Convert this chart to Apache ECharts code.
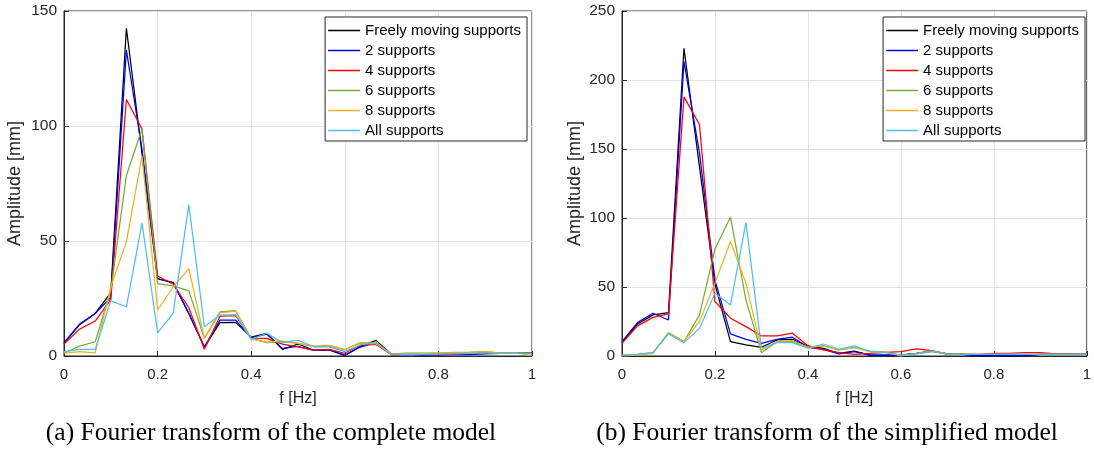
<!DOCTYPE html>
<html>
<head>
<meta charset="utf-8">
<script src="https://cdn.jsdelivr.net/npm/echarts@6/dist/echarts.min.js"></script>
<style>
html,body{margin:0;padding:0;background:#fff;}
#chart{width:1094px;height:452px;}
</style>
</head>
<body>
<div id="chart"></div>
<script>
// Frequencies [Hz]
var freqs = [0, 0.0333, 0.0667, 0.1, 0.1333, 0.1667, 0.2, 0.2333, 0.2667, 0.3, 0.3333, 0.3667, 0.4, 0.4333, 0.4667, 0.5,
  0.5333, 0.5667, 0.6, 0.6333, 0.6667, 0.7, 0.7333, 0.7667, 0.8, 0.8333, 0.8667, 0.9, 0.9333, 0.9667, 1];

var seriesNames = ['Freely moving supports', '2 supports', '4 supports', '6 supports', '8 supports', 'All supports'];
var seriesColors = ['#000000', '#0000ff', '#ff0000', '#77ac30', '#edb120', '#4dbeee'];

// (a) complete model
var completeFree = [5.5, 13.6, 18.5, 27.5, 142.5, 88, 33.5, 32, 18.5, 3.8, 14.5, 14.6, 8.2, 9.8, 2.9, 5.2, 2.6, 2.6, 0.2, 4.2, 6.8, 0.7, 0.8, 0.7, 0.7, 0.8, 1.2, 1.2, 1.2, 1.2, 1.2];
var complete2 = [5.8, 13.9, 18.5, 25.5, 133, 90, 33.7, 31.8, 18.5, 4, 15.6, 15.6, 8, 9.5, 3.3, 4.2, 2.4, 2.8, 0.4, 3.9, 5.8, 0.6, 0.7, 0.4, 0.5, 0.6, 0.6, 0.9, 1.1, 1.2, 1.1];
var complete4 = [5.2, 11.7, 15.2, 24.6, 111.5, 98.7, 34.8, 31.2, 21, 2.9, 17.3, 17.5, 7.8, 7.7, 5.2, 4, 2.6, 2.9, 1.2, 4.8, 5, 0.5, 0.8, 0.8, 0.8, 0.9, 1.2, 1.4, 1.2, 1.2, 1.0];
var complete6 = [1.2, 4.3, 6.2, 28.5, 78.5, 98.7, 31.5, 30.5, 28.3, 7.7, 19.2, 19.7, 7.7, 5.8, 6.2, 5.5, 4.2, 4.3, 2.7, 5.8, 5.5, 0.9, 1.2, 1.2, 1.3, 1.6, 1.7, 1.9, 1.3, 1.4, 1.1];
var complete8 = [1.2, 1.9, 1.4, 30, 49.6, 87, 20, 30, 38, 7.7, 18.8, 19.5, 7.3, 6, 6.6, 5.5, 4.3, 4.6, 2.9, 5.5, 5.4, 0.8, 1.0, 1.0, 1.4, 1.4, 1.4, 1.9, 1.2, 1.3, 0.2];
var completeAll = [1.9, 2.9, 2.9, 24, 21.4, 57.8, 10.1, 18.5, 65.8, 12.7, 17.8, 18, 7.2, 9.9, 5.8, 6.9, 4, 4, 1.9, 4.8, 6, 0.7, 0.8, 0.7, 0.8, 0.9, 1.1, 1.2, 1.2, 1.2, 1.0];

// (b) simplified model
var simpleFree = [9.7, 23.2, 29.8, 31.5, 223, 137, 52, 10.4, 8, 6.3, 11.6, 12.1, 7, 5.6, 1.9, 3.6, 0.7, 0.7, 0.7, 1.9, 3.6, 1.5, 1.2, 0.3, 0.3, 0.1, 0.5, 1.2, 1.2, 1.2, 1.2];
var simple2 = [10.4, 24.2, 31, 26.1, 213.5, 147, 55, 16, 12.1, 9.2, 12.1, 13.6, 6.3, 4.8, 1.5, 3.1, 0.7, 0.7, 0.7, 1.9, 3.6, 1.5, 1.2, 0.2, 0.1, 0.2, 0.5, 1.2, 1.2, 1.2, 1.2];
var simple4 = [9.2, 21.8, 28, 30.5, 187.8, 167.8, 39.5, 27.4, 21.3, 14.5, 14.5, 16.5, 7.5, 4.4, 2.4, 1.2, 1.9, 2.7, 3.1, 5.1, 3.9, 1.2, 1.4, 1.2, 1.9, 1.9, 2.4, 2.4, 1.5, 1.5, 1.2];
var simple6 = [0.7, 1.2, 2.4, 17, 10.4, 29.8, 77.5, 100.7, 40.7, 2.4, 10.4, 10.4, 6.3, 7.3, 4.4, 6.3, 3.6, 2.9, 0.5, 1.5, 3.1, 1.5, 1.2, 1.2, 1.2, 1.2, 1.2, 1.2, 1.2, 1.2, 1.2];
var simple8 = [0, 0.7, 1.9, 16.5, 10.4, 25, 52.8, 83, 52.8, 4.4, 10.4, 11.1, 6.3, 7.3, 4.4, 6, 3.1, 2.7, 0, 1.9, 3.6, 1.5, 1.2, 1.2, 1.2, 1.2, 1.2, 1.2, 1.2, 1.2, 1.2];
var simpleAll = [0.7, 1.2, 2.4, 16, 9.7, 20, 45.5, 37, 96.8, 5.6, 9.7, 9.7, 5.6, 8.7, 4.8, 7.3, 3.1, 2.4, 0.7, 1.5, 3.6, 1.5, 1.2, 1.2, 1.2, 1.2, 1.2, 1.2, 1.2, 1.2, 1.2];

var xTicks = [0, 0.2, 0.4, 0.6, 0.8, 1];
var yTicksA = [0, 50, 100, 150];
var yTicksB = [0, 50, 100, 150, 200, 250];

var captions = ['(a) Fourier transform of the complete model', '(b) Fourier transform of the simplified model'];
var xName = 'f [Hz]';
var yName = 'Amplitude [mm]';

var completeSets = [completeFree, complete2, complete4, complete6, complete8, completeAll];
var simpleSets = [simpleFree, simple2, simple4, simple6, simple8, simpleAll];

function pairs(vals) {
  return vals.map(function (v, i) { return [freqs[i], v]; });
}

var AX = '#262626';
var GRIDC = '#e3e3e3';
var FONT = '"Liberation Sans", Arial, Helvetica, sans-serif';

function xAxisCfg(idx) {
  return {
    type: 'value', gridIndex: idx, min: xTicks[0], max: xTicks[xTicks.length - 1], interval: 0.2,
    name: xName, nameLocation: 'middle', nameGap: 35,
    nameTextStyle: { color: AX, fontSize: 16, fontFamily: FONT },
    axisLine: { show: true, onZero: false, lineStyle: { color: AX, width: 1 } },
    axisTick: { show: true, inside: true, length: 5, lineStyle: { color: AX } },
    axisLabel: { color: AX, fontSize: 15, fontFamily: FONT, margin: 11 },
    splitLine: { show: true, lineStyle: { color: GRIDC, width: 1 } }
  };
}
function yAxisCfg(idx, ticks, gap) {
  return {
    type: 'value', gridIndex: idx, min: ticks[0], max: ticks[ticks.length - 1], interval: 50,
    name: yName, nameLocation: 'middle', nameGap: gap,
    nameTextStyle: { color: AX, fontSize: 18, fontFamily: FONT },
    axisLine: { show: true, onZero: false, lineStyle: { color: AX, width: 1 } },
    axisTick: { show: true, inside: true, length: 5, lineStyle: { color: AX } },
    axisLabel: { color: AX, fontSize: 15.5, fontFamily: FONT, margin: 7 },
    splitLine: { show: true, lineStyle: { color: GRIDC, width: 1 } }
  };
}

var series = [];
[completeSets, simpleSets].forEach(function (sets, gi) {
  sets.forEach(function (vals, si) {
    series.push({
      name: seriesNames[si], type: 'line', xAxisIndex: gi, yAxisIndex: gi,
      data: pairs(vals), showSymbol: false, symbol: 'none', animation: false,
      lineStyle: { color: seriesColors[si], width: 1.25 },
      itemStyle: { color: seriesColors[si] }
    });
  });
});

function legendCfg(right) {
  return {
    data: seriesNames.map(function (n) { return { name: n, icon: 'rect' }; }),
    orient: 'vertical', right: right, top: 17,
    itemWidth: 32, itemHeight: 1.5, itemGap: 5, itemTextGap: 3,
    padding: [6, 6, 3, 3],
    backgroundColor: '#fff', borderColor: AX, borderWidth: 1, borderRadius: 0,
    textStyle: { color: '#000', fontSize: 15, fontFamily: FONT, lineHeight: 14 },
    selectedMode: false
  };
}

var chart = echarts.init(document.getElementById('chart'), null, { renderer: 'canvas' });
chart.setOption({
  animation: false,
  backgroundColor: '#fff',
  grid: [
    { left: 64, top: 11, width: 468, height: 345, show: true, borderColor: AX, borderWidth: 1, backgroundColor: 'transparent' },
    { left: 622, top: 11, width: 466, height: 345, show: true, borderColor: AX, borderWidth: 1, backgroundColor: 'transparent' }
  ],
  xAxis: [xAxisCfg(0), xAxisCfg(1)],
  yAxis: [yAxisCfg(0, yTicksA, 40), yAxisCfg(1, yTicksB, 38)],
  legend: [legendCfg(1094 - 527), legendCfg(1094 - 1085)],
  graphic: [
    { type: 'text', x: 271, y: 433, style: { text: captions[0], font: '25.5px "Liberation Serif", "Times New Roman", serif', fill: '#000', textAlign: 'center', textVerticalAlign: 'middle' } },
    { type: 'text', x: 827, y: 433, style: { text: captions[1], font: '25.5px "Liberation Serif", "Times New Roman", serif', fill: '#000', textAlign: 'center', textVerticalAlign: 'middle' } }
  ],
  series: series
});
</script>
</body>
</html>
